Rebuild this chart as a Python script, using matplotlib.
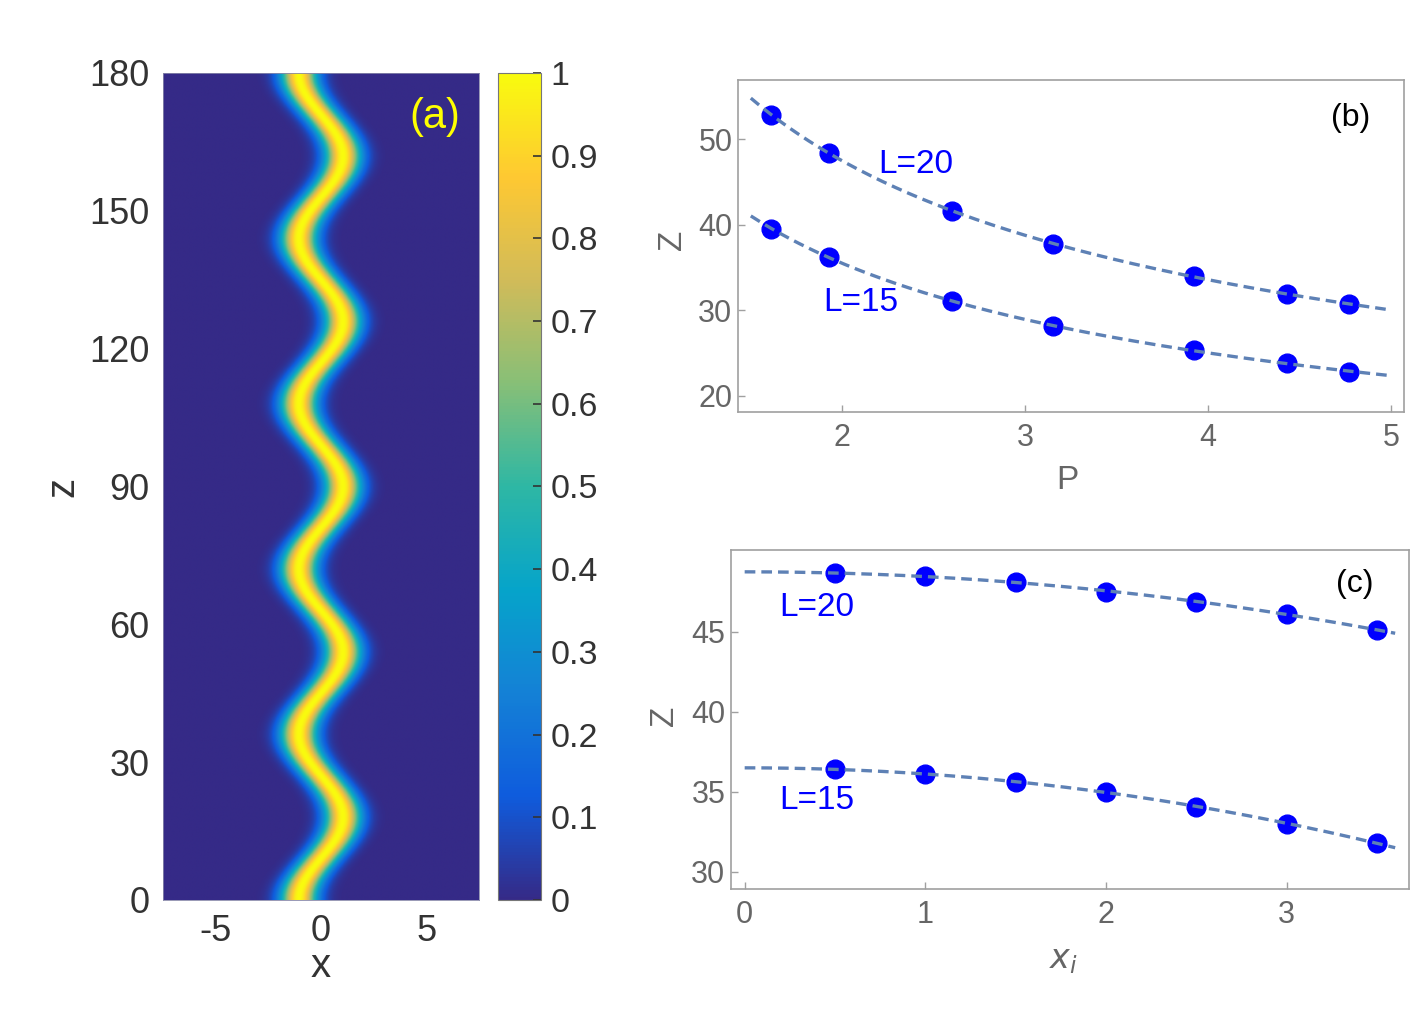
import numpy as np
import matplotlib
matplotlib.use('Agg')
import matplotlib.pyplot as plt
from matplotlib.colors import LinearSegmentedColormap

plt.rcParams['font.family'] = ['Liberation Sans', 'DejaVu Sans']

# panel (a): oscillating beam
x_lim = (-7.5, 7.5)
z_lim = (0, 180)
beam_period = 36.0      # distance between two right-hand turns
beam_amp = 1.05         # lateral swing of the beam centre (starts at -amp)
beam_width = 0.85

# panel (b): Z versus P
p_vals = [1.61, 1.93, 2.60, 3.15, 3.92, 4.43, 4.77]
zb_L20 = [52.8, 48.4, 41.6, 37.8, 34.0, 31.9, 30.7]
zb_L15 = [39.5, 36.2, 31.1, 28.2, 25.4, 23.8, 22.8]

# panel (c): Z versus x_i
xi_vals = [0.5, 1.0, 1.5, 2.0, 2.5, 3.0, 3.5]
zc_L20 = [48.65, 48.48, 48.09, 47.50, 46.84, 46.11, 45.11]
zc_L15 = [36.42, 36.11, 35.61, 34.96, 34.03, 33.00, 31.81]

# parula-like colormap
parula = LinearSegmentedColormap.from_list('parula', [
    '#352a87', '#0f5cdd', '#1481d6', '#06a4ca', '#2eb7a4',
    '#87bf77', '#d1bb59', '#fec832', '#f9fb0e'])

fig = plt.figure(figsize=(14.13, 10.11), dpi=100)

# ---- (a)
ax_a = fig.add_axes([0.1154, 0.1098, 0.2236, 0.818])
xx = np.linspace(x_lim[0], x_lim[1], 400)
zz = np.linspace(z_lim[0], z_lim[1], 900)
X, Zg = np.meshgrid(xx, zz)
centre = -beam_amp * np.cos(2 * np.pi * Zg / beam_period)
field = np.exp(-((X - centre) / beam_width) ** 2)
im = ax_a.imshow(field, extent=[x_lim[0], x_lim[1], z_lim[0], z_lim[1]],
                 origin='lower', aspect='auto', cmap=parula, vmin=0, vmax=1,
                 interpolation='bilinear')
ax_a.set_xticks([-5, 0, 5])
ax_a.set_xticklabels(['-5', '0', '5'])
ax_a.set_yticks(np.arange(0, 181, 30))
ax_a.tick_params(length=0, labelsize=26, labelcolor='#333333', pad=10)
for s in ax_a.spines.values():
    s.set_color('#8888aa')
    s.set_linewidth(0.6)
ax_a.text(-0.32, 0.499, 'z', transform=ax_a.transAxes, rotation=90,
          ha='center', va='center', fontsize=29, color='#333333')
ax_a.text(0.5, -0.08, 'x', transform=ax_a.transAxes,
          ha='center', va='center', fontsize=29, color='#333333')
ax_a.text(0.86, 0.947, '(a)', transform=ax_a.transAxes,
          ha='center', va='center', fontsize=30, color='#ffff00')

cax = fig.add_axes([0.3524, 0.1098, 0.0304, 0.818])
cb = fig.colorbar(im, cax=cax)
cb.set_ticks(np.arange(0, 1.01, 0.1))
cb.set_ticklabels(['0', '0.1', '0.2', '0.3', '0.4', '0.5', '0.6', '0.7', '0.8', '0.9', '1'])
cax.tick_params(direction='in', length=6, width=1.2, color='#333333',
                labelsize=24.5, labelcolor='#333333', pad=7)
cb.outline.set_edgecolor('#777777')
cb.outline.set_linewidth(0.8)

line_col = '#5e81b5'
dot_col = '#0000ff'
frame_col = '#a0a0a0'
text_col = '#666666'


def style_axes(ax):
    for s in ax.spines.values():
        s.set_color(frame_col)
        s.set_linewidth(1.2)
    ax.tick_params(direction='in', length=5, width=1, color=frame_col,
                   labelsize=22, labelcolor=text_col)
    ax.tick_params(axis='x', pad=8)
    ax.tick_params(axis='y', pad=4)


# ---- (b)
ax_b = fig.add_axes([0.5223, 0.5925, 0.4713, 0.3284])
p_fit = np.linspace(1.5, 5.0, 200)
for zs in (zb_L20, zb_L15):
    k, c = np.polyfit(np.log(p_vals), np.log(zs), 1)
    ax_b.plot(p_vals, zs, 'o', color=dot_col, ms=13.5, zorder=2)
    ax_b.plot(p_fit, np.exp(c) * p_fit ** k, color=line_col, lw=2.4,
              ls=(0, (3.2, 1.8)), zorder=3)
ax_b.set_xlim(1.43, 5.07)
ax_b.set_ylim(18.13, 56.9)
ax_b.set_xticks([2, 3, 4, 5])
ax_b.set_yticks([20, 30, 40, 50])
style_axes(ax_b)
ax_b.text(0.267, 0.744, 'L=20', transform=ax_b.transAxes, ha='center', va='center',
          fontsize=24, color=dot_col)
ax_b.text(0.184, 0.33, 'L=15', transform=ax_b.transAxes, ha='center', va='center',
          fontsize=24, color=dot_col)
ax_b.text(0.92, 0.886, '(b)', transform=ax_b.transAxes, ha='center', va='center',
          fontsize=23, color='black')
ax_b.text(-0.099, 0.518, 'Z', transform=ax_b.transAxes, rotation=90,
          ha='center', va='center', fontsize=24, color=text_col)
ax_b.text(0.495, -0.205, 'P', transform=ax_b.transAxes,
          ha='center', va='center', fontsize=24, color=text_col)

# ---- (c)
ax_c = fig.add_axes([0.5173, 0.1207, 0.4798, 0.3353])
xi_fit = np.linspace(0.0, 3.6, 200)
for zs in (zc_L20, zc_L15):
    b, a = np.polyfit(np.array(xi_vals) ** 2, zs, 1)
    ax_c.plot(xi_vals, zs, 'o', color=dot_col, ms=13.5, zorder=2)
    ax_c.plot(xi_fit, a + b * xi_fit ** 2, color=line_col, lw=2.4,
              ls=(0, (3.2, 1.8)), zorder=3)
ax_c.set_xlim(-0.076, 3.676)
ax_c.set_ylim(28.92, 50.1)
ax_c.set_xticks([0, 1, 2, 3])
ax_c.set_yticks([30, 35, 40, 45])
style_axes(ax_c)
ax_c.text(0.126, 0.83, 'L=20', transform=ax_c.transAxes, ha='center', va='center',
          fontsize=24, color=dot_col)
ax_c.text(0.126, 0.26, 'L=15', transform=ax_c.transAxes, ha='center', va='center',
          fontsize=24, color=dot_col)
ax_c.text(0.92, 0.90, '(c)', transform=ax_c.transAxes, ha='center', va='center',
          fontsize=23, color='black')
ax_c.text(-0.098, 0.51, 'Z', transform=ax_c.transAxes, rotation=90,
          ha='center', va='center', fontsize=24, color=text_col)
ax_c.text(0.49, -0.21, r'$x_i$', transform=ax_c.transAxes,
          ha='center', va='center', fontsize=24, color=text_col)

fig.savefig('out.png', dpi=100)
